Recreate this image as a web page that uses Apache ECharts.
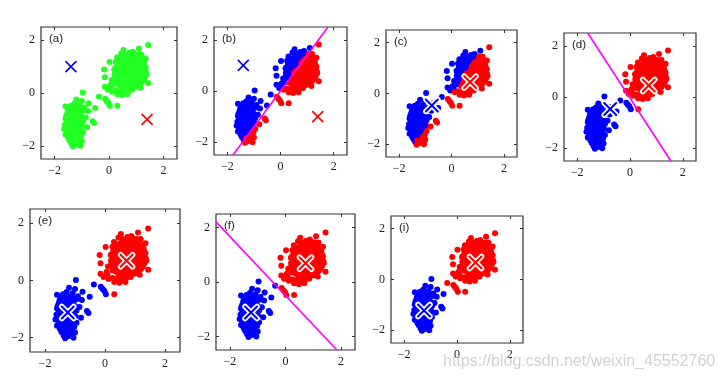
<!DOCTYPE html>
<html><head><meta charset="utf-8">
<script src="https://cdn.jsdelivr.net/npm/echarts@6/dist/echarts.min.js"></script>
<style>html,body{margin:0;padding:0;background:#fff}#c{width:724px;height:382px}</style>
</head><body><div id="c"></div>
<script>
// ---- data (standardised Old Faithful) ----
const upperCluster = [
[1.44,1.82],[1.1,1.68],[0.88,1.56],[0.53,1.63],[1.19,1.45],[0.59,1.34],[0.02,1.17],[-0.18,0.89],[-0.15,0.6],[-0.15,0.24],[0.08,0.2],[0.31,-0.05],[0.48,-0.08],[0.25,0.09],[1.36,0.77],[1.44,0.38],[1.27,0.49],[1.16,0.2],[0.93,0.26],[0.65,0.15],[0.1,0.49],[0.19,0.89],[0.05,0.3],[-0.05,0.12],[0.12,0.05],
[0.35,1.25],[0.5,1.3],[0.68,1.35],[0.82,1.42],[0.95,1.38],[1.05,1.3],[1.2,1.25],[0.28,1.05],[0.42,1.12],[0.58,1.18],[0.72,1.2],[0.88,1.22],[1.02,1.15],[1.15,1.1],[1.3,1.05],[0.22,0.92],[0.38,0.95],[0.52,1.0],[0.65,1.05],[0.78,1.08],[0.92,1.02],[1.08,0.98],[1.22,0.92],[1.35,0.95],[0.3,0.8],[0.45,0.85],[0.6,0.88],[0.72,0.9],[0.85,0.85],[0.98,0.88],[1.12,0.82],[1.28,0.78],[0.2,0.7],[0.35,0.72],[0.5,0.7],[0.62,0.75],[0.75,0.72],[0.9,0.7],[1.02,0.68],[1.18,0.65],[1.32,0.6],[0.28,0.58],[0.42,0.6],[0.55,0.55],[0.68,0.6],[0.8,0.58],[0.95,0.55],[1.1,0.52],[1.25,0.5],[0.3,0.45],[0.45,0.42],[0.6,0.45],[0.72,0.42],[0.85,0.4],[1.0,0.38],[1.12,0.35],[0.38,0.3],[0.52,0.28],[0.65,0.3],[0.78,0.25],[0.92,0.22],[1.05,0.25],[0.45,0.15],[0.58,0.12],[0.72,0.1],[0.85,0.12],[0.55,0.0],[0.68,-0.05],[0.4,0.02],[0.62,0.95],[0.8,0.95],[0.7,0.8],[0.88,0.78],[0.58,0.65],[0.82,0.65],[0.7,0.52],[0.9,0.48],[0.48,0.5],[1.05,0.78],[1.15,0.72],[0.98,1.12],[0.75,1.28],[0.6,1.45],[0.45,1.5],[0.9,1.5],[1.05,1.45],[0.35,0.62],[1.2,0.4],[1.38,0.7],[0.25,1.18],[1.0,0.95],[0.52,0.82],[0.95,0.62],[0.78,0.35],[0.62,0.2],
[0.42,1.2],[0.55,1.08],[0.7,1.12],[0.85,1.15],[1.12,1.2],[0.32,0.9],[0.48,0.92],[0.68,0.98],[0.95,0.95],[1.18,0.88],[0.4,0.78],[0.58,0.8],[0.78,0.82],[0.92,0.82],[1.08,0.9],[0.45,0.65],[0.65,0.68],[0.85,0.72],[1.1,0.6],[0.52,0.38],[0.68,0.38],[0.8,0.5],[0.98,0.45],[0.88,0.3],[0.58,0.58],[0.74,0.62],[1.22,0.75],[0.3,1.35],[0.98,1.28],[1.28,1.15],[0.25,0.35],[0.2,0.55],[1.35,1.3],[0.75,1.52]
];
const lowerCluster = [
[-0.97,0.02],[-1.2,-0.25],[-1.28,-0.4],[-1.08,-0.45],[-1.4,-0.48],[-1.6,-0.5],[-0.75,-0.39],[-0.94,-0.65],[-0.77,-0.68],[-0.51,-0.57],[-1.15,-0.6],[-1.3,-0.62],[-1.5,-0.65],[-1.22,-0.72],[-1.05,-0.78],[-1.38,-0.78],[-1.55,-0.82],[-1.45,-0.9],[-1.3,-0.88],[-1.18,-0.92],[-1.0,-0.9],[-0.85,-0.93],[-1.6,-0.98],[-1.42,-1.0],[-1.28,-1.02],[-1.12,-1.05],[-0.95,-1.05],[-0.6,-1.07],[-0.55,-1.14],[-1.5,-1.1],[-1.35,-1.12],[-1.2,-1.15],[-1.05,-1.18],[-1.62,-1.2],[-1.45,-1.22],[-1.3,-1.25],[-1.15,-1.28],[-0.98,-1.25],[-0.8,-1.3],[-1.65,-1.36],[-1.5,-1.35],[-1.38,-1.38],[-1.22,-1.4],[-1.08,-1.42],[-1.55,-1.48],[-1.4,-1.5],[-1.27,-1.52],[-1.12,-1.5],[-0.95,-1.48],[-1.6,-1.58],[-1.45,-1.6],[-1.32,-1.62],[-1.18,-1.65],[-1.02,-1.62],[-1.5,-1.7],[-1.38,-1.72],[-1.25,-1.75],[-1.1,-1.72],[-1.45,-1.8],[-1.3,-1.85],[-1.15,-1.85],[-1.0,-1.82],[-1.38,-1.92],[-1.22,-1.95],[-1.08,-1.92],[-1.33,-2.02],[-1.48,-1.28],[-1.35,-0.95],[-1.25,-0.55],[-1.1,-0.75],[-1.55,-1.05],[-1.2,-1.05],[-1.4,-1.3],[-1.25,-1.45],[-1.35,-1.68],[-1.18,-1.32],[-1.45,-1.42],[-1.52,-0.72],[-0.9,-0.55],[-1.0,-0.3],
[-1.42,-0.55],[-1.58,-0.9],[-1.08,-0.62],[-1.33,-1.45],[-1.2,-1.58],[-1.4,-1.08],[-1.1,-1.1],[-1.28,-1.3],[-1.5,-1.55],[-1.25,-1.9],[-1.05,-2.0]
];
const bridgePoints = [[-0.37,-0.14],[-0.14,-0.22],[-0.02,-0.37],[0.03,-0.48],[-0.08,-0.3],[0.31,-0.48]];
const tickValues = [-2, 0, 2];
const panelLabels = ['(a)','(b)','(c)','(d)','(e)','(f)','(i)'];
// centroids at each stage [x, y]
const muInitBlue = [-1.4, 1.0],  muInitRed = [1.4, -1.0];
const mu1Blue = [-0.75, -0.47],  mu1Red = [0.71, 0.45];
const mu2Blue = [-1.24, -1.12],  mu2Red = [0.72, 0.69];
const mu3Blue = [-1.25, -1.22],  mu3Red = [0.70, 0.67];
const watermark = 'https://blog.csdn.net/weixin_45552760';

// ---- layout / style ----
const BLUE = '#0000ff', RED = '#ff0000', GREEN = '#22ff22', MAG = '#ff00ff';
const DOT = 6;
const boxes = [[41,27,136,132],[214,27,133,128],[386,30,131,127],[564,33,132,128],[30,209,150,143],[216,214,139,136],[391,216,132,127]];
const stages = [
  {assign:null, mu:[muInitBlue,muInitRed], line:null, thick:false},
  {assign:[muInitBlue,muInitRed], mu:[muInitBlue,muInitRed], line:[muInitBlue,muInitRed], thick:false},
  {assign:[muInitBlue,muInitRed], mu:[mu1Blue,mu1Red], line:null, thick:true},
  {assign:[mu1Blue,mu1Red], mu:[mu1Blue,mu1Red], line:[mu1Blue,mu1Red], thick:true},
  {assign:[mu1Blue,mu1Red], mu:[mu2Blue,mu2Red], line:null, thick:true},
  {assign:[mu2Blue,mu2Red], mu:[mu2Blue,mu2Red], line:[mu2Blue,mu2Red], thick:true},
  {assign:[mu3Blue,mu3Red], mu:[mu3Blue,mu3Red], line:null, thick:true}
];
const allPoints = upperCluster.concat(bridgePoints, lowerCluster);
const d2 = (p,q)=> (p[0]-q[0])**2 + (p[1]-q[1])**2;
function bisector(b, r){
  const n=[r[0]-b[0], r[1]-b[1]], c=(r[0]*r[0]+r[1]*r[1]-b[0]*b[0]-b[1]*b[1])/2, L=2.5, pts=[];
  if (Math.abs(n[1])>1e-9){ for (const x of [-L,L]){ const y=(c-n[0]*x)/n[1]; if (y>=-L-1e-9&&y<=L+1e-9) pts.push([x,y]); } }
  if (Math.abs(n[0])>1e-9){ for (const y of [-L,L]){ const x=(c-n[1]*y)/n[0]; if (x>-L+1e-9&&x<L-1e-9) pts.push([x,y]); } }
  pts.sort((a,b)=>a[0]-b[0]);
  return pts.slice(0,2);
}
const fmt = v => String(v).replace('-', '\u2212');
const labelStyle = {color:'#222', fontFamily:'Liberation Serif', fontSize:12};
const grid=[], xAxis=[], yAxis=[], series=[], graphic=[];
boxes.forEach((b,i)=>{
  grid.push({left:b[0], top:b[1], width:b[2], height:b[3], show:true, borderColor:'#333', borderWidth:1.2, backgroundColor:'#fff'});
  for (const pos of ['bottom','top']) xAxis.push({gridIndex:i, type:'value', min:-2.5, max:2.5, position:pos,
    axisLine:{show:false, onZero:false}, splitLine:{show:false},
    axisTick:{show:true, inside:true, length:3, customValues:tickValues, lineStyle:{color:'#333'}},
    axisLabel:Object.assign({show:pos==='bottom', customValues:tickValues, margin:6, formatter:fmt}, labelStyle)});
  for (const pos of ['left','right']) yAxis.push({gridIndex:i, type:'value', min:-2.5, max:2.5, position:pos,
    axisLine:{show:false, onZero:false}, splitLine:{show:false},
    axisTick:{show:true, inside:true, length:3, customValues:tickValues, lineStyle:{color:'#333'}},
    axisLabel:Object.assign({show:pos==='left', customValues:tickValues, margin:6, formatter:fmt}, labelStyle)});
  const st = stages[i], ax = {xAxisIndex:2*i, yAxisIndex:2*i};
  if (!st.assign){
    series.push(Object.assign({type:'scatter', data:allPoints, symbolSize:DOT, itemStyle:{color:GREEN, opacity:1}, silent:true}, ax));
  } else {
    const bl = allPoints.filter(p=>d2(p,st.assign[0])<=d2(p,st.assign[1]));
    const rd = allPoints.filter(p=>d2(p,st.assign[0])>d2(p,st.assign[1]));
    series.push(Object.assign({type:'scatter', data:bl, symbolSize:DOT, itemStyle:{color:BLUE, opacity:1}, silent:true}, ax));
    series.push(Object.assign({type:'scatter', data:rd, symbolSize:DOT, itemStyle:{color:RED, opacity:1}, silent:true}, ax));
  }
  if (st.line){
    series.push(Object.assign({type:'line', data:bisector(st.line[0], st.line[1]), symbol:'none', lineStyle:{color:MAG, width:1.6}, z:5, silent:true}, ax));
  }
  const thick = st.thick;
  series.push(Object.assign({type:'custom', z:10, silent:true,
    data:[[st.mu[0][0], st.mu[0][1], 0],[st.mu[1][0], st.mu[1][1], 1]],
    renderItem:(params, api)=>{
      const c = api.coord([api.value(0), api.value(1)]);
      const col = api.value(2)===0 ? BLUE : RED;
      const s = thick ? 6 : 5;
      const mk = (stroke, w)=>[
        {type:'line', shape:{x1:c[0]-s,y1:c[1]-s,x2:c[0]+s,y2:c[1]+s}, style:{stroke, lineWidth:w, lineCap:'round'}},
        {type:'line', shape:{x1:c[0]-s,y1:c[1]+s,x2:c[0]+s,y2:c[1]-s}, style:{stroke, lineWidth:w, lineCap:'round'}}];
      return {type:'group', children: thick ? mk('#fff',5.5).concat(mk(col,2)) : mk(col,1.6)};
    }}, ax));
  graphic.push({type:'text', left:b[0]+8, top:b[1]+6, z:20, style:{text:panelLabels[i], fill:'#222', font:'11.5px "Liberation Sans"'}});
});
graphic.push({type:'text', left:443, top:354, z:30, style:{text:watermark, fill:'rgba(190,190,190,0.7)', font:'16px "Liberation Sans"'}});
const chart = echarts.init(document.getElementById('c'), null, {renderer:'canvas'});
chart.setOption({animation:false, backgroundColor:'#fff', grid, xAxis, yAxis, series, graphic});
</script></body></html>
